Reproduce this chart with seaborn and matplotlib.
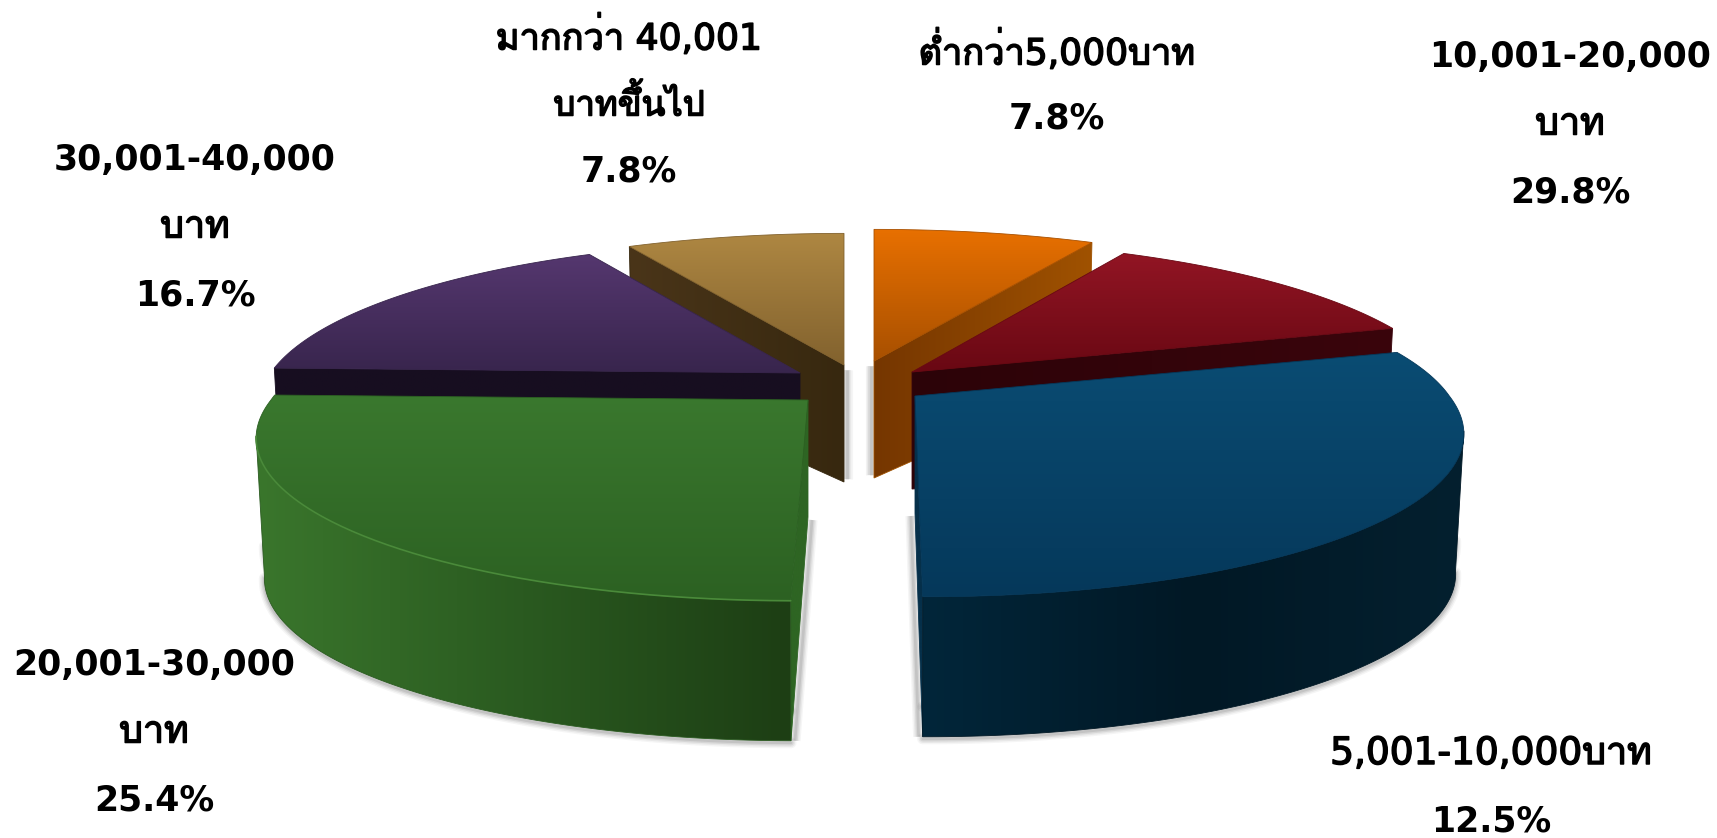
import numpy as np
import matplotlib
matplotlib.use('Agg')
import matplotlib.pyplot as plt
import matplotlib.patheffects as pe
import seaborn as sns
from matplotlib import font_manager as fm
from matplotlib.ft2font import FT2Font
from matplotlib.patches import Polygon

# =============================================================================
# 01 Data
# =============================================================================

# slices go clockwise from 12 o'clock
slice_names = ['orange', 'red', 'blue', 'green', 'purple', 'tan']
slice_pct = [7.8, 12.5, 29.8, 25.4, 16.7, 7.8]

label_lines = [
    ['ต่ำกว่า5,000บาท', '7.8%'],
    ['10,001-20,000', 'บาท', '29.8%'],
    ['5,001-10,000บาท', '12.5%'],
    ['20,001-30,000', 'บาท', '25.4%'],
    ['30,001-40,000', 'บาท', '16.7%'],
    ['มากกว่า 40,001', 'บาทขึ้นไป', '7.8%'],
]

# =============================================================================
# 02 Look of the chart (pixels of the 1717x838 image)
# =============================================================================

apex = {'orange': (874, 361), 'red': (912, 372), 'blue': (915, 396),
        'green': (808, 400), 'purple': (800, 373), 'tan': (844, 365)}
# slices are not quite the same size in the picture
rx_scale = {'orange': 1.0, 'red': 0.972, 'blue': 0.975, 'green': 0.98,
            'purple': 0.966, 'tan': 0.985}
# front edge leans away from the gap between blue and green
lean = {'blue': 12, 'green': -13}
top_cols = {'orange': ('#E87000', '#A85000'), 'red': ('#921524', '#690813'),
            'blue': ('#0A4C73', '#05385A'), 'green': ('#3A782E', '#2C6122'),
            'purple': ('#55376F', '#38254D'), 'tan': ('#AE8742', '#82622E')}
rim_cols = {'blue': ('#02263A', '#011825', '#04202F'),
            'green': ('#3A762C', '#2A5A20', '#1D3E14')}
face_cols = {'orange': ('#753600', '#A05200'), 'red': ('#2C0308', '#3A050C'),
             'purple': ('#170E20', '#170E20'), 'tan': ('#4A3519', '#37280F'),
             'green': ('#2E6523', '#2E6523'), 'blue': ('#06304A', '#06304A')}
draw_order = ['tan', 'orange', 'purple', 'red', 'green', 'blue']
label_pos = [(1057, 51), (1570, 57), (1491, 754), (154, 665), (195, 160), (629, 36)]
line_gap = 67.5

RX, RY, PERSP = 548, 159, 0.208
RIM_H, APEX_H = 140, 117

sns.set_theme(style='white')


def thai_family():
    for f in fm.fontManager.ttflist:
        try:
            if 0x0E1A in FT2Font(f.fname).get_charmap():
                return f.name
        except Exception:
            pass
    return None


thai = thai_family()
plt.rcParams['font.family'] = ['DejaVu Sans'] + ([thai] if thai else ['Noto Sans'])


def top_xy(name, deg):
    a = np.radians(np.asarray(deg, dtype=float))
    x, y = np.sin(a), np.cos(a)
    d = 1 + PERSP * y
    sx = apex[name][0] + RX * rx_scale[name] * x / d + lean.get(name, 0) * np.clip(-y, 0, 1)
    return np.column_stack([sx, apex[name][1] - RY * y / d])


def fill(ax, pts, cols, horizontal=False, zorder=2):
    # gradient image clipped to the polygon
    pts = np.asarray(pts)
    cmap = sns.blend_palette(cols, 64, as_cmap=True)
    grad = np.linspace(0, 1, 256)
    grad = grad.reshape(1, -1) if horizontal else grad.reshape(-1, 1)
    ext = (pts[:, 0].min(), pts[:, 0].max(), pts[:, 1].max(), pts[:, 1].min())
    im = ax.imshow(grad, cmap=cmap, extent=ext, aspect='auto', zorder=zorder, vmin=0, vmax=1)
    # thin outline in the middle colour closes the seams
    poly = Polygon(pts, closed=True, transform=ax.transData, fc='none',
                   ec=cols[len(cols) // 2], lw=0.6, zorder=zorder + 0.1)
    ax.add_patch(poly)
    im.set_clip_path(poly)


def soft_shadow(ax, pts, zorder, off=(0, 0), cap='round'):
    pts = np.asarray(pts) + off
    for lw, alpha in [(8, 0.05), (6, 0.07), (4, 0.10), (2, 0.12)]:
        ax.plot(pts[:, 0], pts[:, 1], color='#404040', lw=lw, alpha=alpha,
                solid_capstyle=cap, zorder=zorder)


# =============================================================================
# 03 Draw
# =============================================================================

fig = plt.figure(figsize=(17.17, 8.38), dpi=100, facecolor='white')
ax = fig.add_axes([0, 0, 1, 1])

edges = np.concatenate([[0], np.cumsum(slice_pct)]) / np.sum(slice_pct) * 360
spans = {n: (edges[i], edges[i + 1]) for i, n in enumerate(slice_names)}

for k, name in enumerate(draw_order):
    a1, a2 = spans[name]
    z = 10 * (k + 1)
    ax_apex = np.array(apex[name], dtype=float)
    deg = np.linspace(a1, a2, 160)
    top = np.vstack([ax_apex, top_xy(name, deg)])

    def low(p):
        q = np.array(p, dtype=float)
        q[:, 0] = ax_apex[0] + (q[:, 0] - ax_apex[0]) * 0.985
        q[:, 1] = q[:, 1] + RIM_H
        return q

    # cut faces that look towards the viewer
    faces = []
    if np.sin(np.radians(a1)) < 0:
        faces.append(a1)
    if np.sin(np.radians(a2)) > 0 or name == 'blue':
        faces.append(a2)
    face_polys = []
    for ang in faces:
        rim = top_xy(name, [ang])
        face_polys.append(np.array([ax_apex, rim[0], low(rim)[0], ax_apex + [0, APEX_H]]))

    # outer wall
    front = deg[np.cos(np.radians(deg)) < -PERSP]
    wall = None
    if len(front) > 1 and name in rim_cols:
        upper = top_xy(name, front)
        wall = np.vstack([upper, low(upper)[::-1]])
        # shadow only round the lower part of the solid
        soft_shadow(ax, low(upper) + [0, -30], z, off=(0, 0))
        soft_shadow(ax, low(upper), z, off=(0, 2))

    # short shadow beside the inner edges
    if name == 'tan':
        soft_shadow(ax, [ax_apex + [0, 5], ax_apex + [0, APEX_H - 3]], z - 5, off=(3, 0), cap='butt')
    if name == 'orange':
        soft_shadow(ax, [ax_apex + [0, 5], ax_apex + [0, APEX_H - 3]], z - 5, off=(-3, 0), cap='butt')
    if name == 'green':
        rim_low = low(top_xy(name, [a1]))[0]
        soft_shadow(ax, [ax_apex + [0, APEX_H + 3], rim_low], z, off=(4, 0), cap='butt')
    if name == 'blue':
        rim_low = low(top_xy(name, [a2]))[0]
        soft_shadow(ax, [ax_apex + [0, APEX_H + 3], rim_low], z, off=(-4, 0), cap='butt')

    for fp in face_polys:
        fill(ax, fp, face_cols[name], horizontal=True, zorder=z + 1)
    if wall is not None:
        fill(ax, wall, rim_cols[name], horizontal=True, zorder=z + 2)
    fill(ax, top, top_cols[name], zorder=z + 3)

    # rim highlight on the bevel
    if wall is not None and name == 'green':
        rim_line = top_xy(name, front)
        ax.plot(rim_line[:, 0], rim_line[:, 1], color='#4A8A3A', lw=1.2, zorder=z + 4)

for pos, lines in zip(label_pos, label_lines):
    for j, line in enumerate(lines):
        has_thai = any('\u0e00' <= ch <= '\u0e7f' for ch in line)
        if has_thai:
            # Thai family has no bold cut, so thicken with a stroke
            size = 26
            if line[0].isdigit() or line == 'บาท':
                size = 27
            if line == 'บาทขึ้นไป':
                size = 25
            t = ax.text(pos[0], pos[1] + j * line_gap, line, ha='center', va='center',
                        fontsize=size, fontweight='normal', color='black', zorder=200)
            t.set_path_effects([pe.withStroke(linewidth=1.1, foreground='black')])
        else:
            ax.text(pos[0], pos[1] + j * line_gap, line, ha='center', va='center',
                    fontsize=25, fontweight='bold', color='black', zorder=200)

ax.set_xlim(0, 1717)
ax.set_ylim(838, 0)
ax.axis('off')

fig.savefig('out.png', dpi=100, facecolor='white')
